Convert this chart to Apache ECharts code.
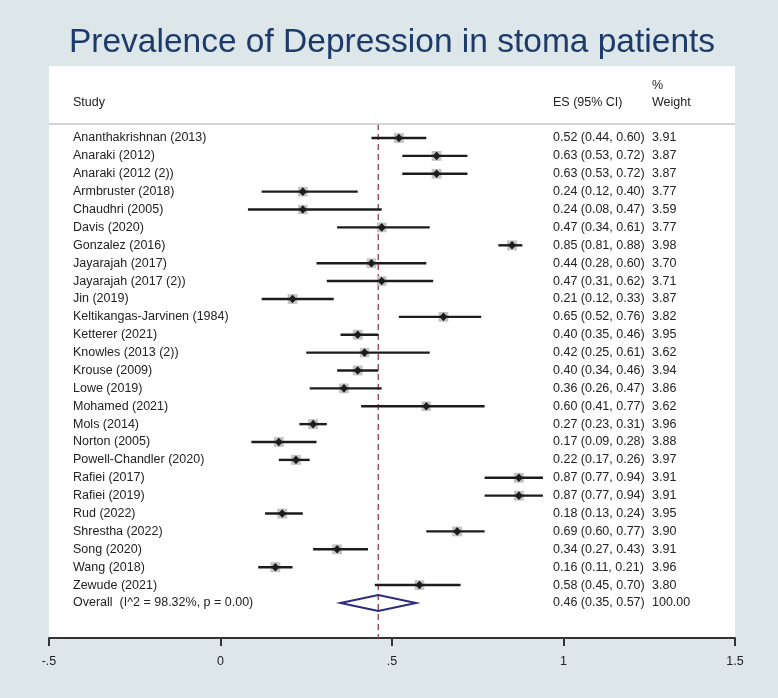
<!DOCTYPE html>
<html>
<head>
<meta charset="utf-8">
<script src="https://cdn.jsdelivr.net/npm/echarts@6/dist/echarts.min.js"></script>
<style>
html,body{margin:0;padding:0;background:#dde6e9;}
#chart{width:778px;height:698px;}
</style>
</head>
<body>
<div id="chart"></div>
<script>
const titleText = 'Prevalence of Depression in stoma patients';
const studies = [
  'Ananthakrishnan (2013)', 'Anaraki (2012)', 'Anaraki (2012 (2))', 'Armbruster (2018)',
  'Chaudhri (2005)', 'Davis (2020)', 'Gonzalez (2016)', 'Jayarajah (2017)',
  'Jayarajah (2017 (2))', 'Jin (2019)', 'Keltikangas-Jarvinen (1984)', 'Ketterer (2021)',
  'Knowles (2013 (2))', 'Krouse (2009)', 'Lowe (2019)', 'Mohamed (2021)',
  'Mols (2014)', 'Norton (2005)', 'Powell-Chandler (2020)', 'Rafiei (2017)',
  'Rafiei (2019)', 'Rud (2022)', 'Shrestha (2022)', 'Song (2020)',
  'Wang (2018)', 'Zewude (2021)'
];
const es = [0.52, 0.63, 0.63, 0.24, 0.24, 0.47, 0.85, 0.44, 0.47, 0.21, 0.65, 0.40, 0.42,
            0.40, 0.36, 0.60, 0.27, 0.17, 0.22, 0.87, 0.87, 0.18, 0.69, 0.34, 0.16, 0.58];
const ciLow = [0.44, 0.53, 0.53, 0.12, 0.08, 0.34, 0.81, 0.28, 0.31, 0.12, 0.52, 0.35, 0.25,
               0.34, 0.26, 0.41, 0.23, 0.09, 0.17, 0.77, 0.77, 0.13, 0.60, 0.27, 0.11, 0.45];
const ciHigh = [0.60, 0.72, 0.72, 0.40, 0.47, 0.61, 0.88, 0.60, 0.62, 0.33, 0.76, 0.46, 0.61,
                0.46, 0.47, 0.77, 0.31, 0.28, 0.26, 0.94, 0.94, 0.24, 0.77, 0.43, 0.21, 0.70];
const weights = [3.91, 3.87, 3.87, 3.77, 3.59, 3.77, 3.98, 3.70, 3.71, 3.87, 3.82, 3.95, 3.62,
                 3.94, 3.86, 3.62, 3.96, 3.88, 3.97, 3.91, 3.91, 3.95, 3.90, 3.91, 3.96, 3.80];
const overallLabel = 'Overall  (I^2 = 98.32%, p = 0.00)';
const overallES = 0.46;
const overallLow = 0.35;
const overallHigh = 0.57;
const overallWeight = 100.00;
const xTickValues = [-0.5, 0, 0.5, 1, 1.5];
const xTickLabels = ['-.5', '0', '.5', '1', '1.5'];
const headerStudy = 'Study';
const headerES = 'ES (95% CI)';
const headerWeight1 = '%';
const headerWeight2 = 'Weight';

const FONT = '"Liberation Sans", Arial, Helvetica, sans-serif';
const TXT = '#222222';
const FS = 12.5;
const STUDY_X = 73, ES_X = 553, W_X = 652;

const rows = studies.map((s, i) => [i, es[i], ciLow[i], ciHigh[i], weights[i]]);
rows.push([studies.length, overallES, overallLow, overallHigh, overallWeight]);
const labels = studies.concat([overallLabel]);

function fmt(v) { return v.toFixed(2); }

function renderRow(params, api) {
  const idx = params.dataIndex;
  const isOverall = idx === studies.length;
  const r = api.value(0);
  const e = api.value(1), l = api.value(2), h = api.value(3), w = api.value(4);
  const p = api.coord([e, r]);
  const pl = api.coord([l, r]);
  const ph = api.coord([h, r]);
  const y = p[1];
  const ch = [];
  if (!isOverall) {
    const side = 5 * Math.sqrt(w);
    ch.push({type: 'rect', shape: {x: p[0] - side / 2, y: y - side / 2, width: side, height: side},
             style: {fill: '#c4c4c4'}});
    ch.push({type: 'line', shape: {x1: pl[0], y1: y, x2: ph[0], y2: y},
             style: {stroke: '#1c1c1c', lineWidth: 2.4}});
    ch.push({type: 'polygon', shape: {points: [[p[0] - 4, y], [p[0], y - 4.3], [p[0] + 4, y], [p[0], y + 4.3]]},
             style: {fill: '#1c1c1c'}});
  } else {
    ch.push({type: 'polygon', shape: {points: [[pl[0], y], [p[0], y - 8], [ph[0], y], [p[0], y + 8]]},
             style: {fill: 'none', stroke: '#2c2a7c', lineWidth: 2}});
  }
  const tstyle = (text, x) => ({type: 'text', style: {text: text, x: x, y: y, fill: TXT,
    fontSize: FS, fontFamily: FONT, align: 'left', verticalAlign: 'middle'}});
  ch.push(tstyle(labels[idx], STUDY_X));
  ch.push(tstyle(fmt(e) + ' (' + fmt(l) + ', ' + fmt(h) + ')', ES_X));
  ch.push(tstyle(fmt(w), W_X));
  return {type: 'group', children: ch};
}

const chart = echarts.init(document.getElementById('chart'));
const Y_MIN = -4.027, Y_MAX = 27.96, SEP_ROW = -0.78;
chart.setOption({
  backgroundColor: '#dde6e9',
  animation: false,
  grid: {left: 49, right: 43, top: 66, bottom: 60, show: true, backgroundColor: '#ffffff', borderWidth: 0},
  xAxis: {
    type: 'value', min: -0.5, max: 1.5, interval: 0.5,
    splitLine: {show: false},
    axisLine: {show: true, onZero: false, lineStyle: {color: '#333333', width: 2}},
    axisTick: {show: true, inside: false, length: 8, lineStyle: {color: '#333333', width: 2}},
    axisLabel: {
      margin: 17, fontSize: FS, fontFamily: FONT, color: TXT,
      formatter: function (v) {
        const k = xTickValues.findIndex(t => Math.abs(t - v) < 1e-9);
        return k >= 0 ? xTickLabels[k] : '';
      }
    }
  },
  yAxis: {type: 'value', inverse: true, min: Y_MIN, max: Y_MAX, show: false, splitLine: {show: false}},
  graphic: [
    {type: 'text', z: 10, style: {text: titleText, x: 392, y: 42.5, fill: '#1c3a6a',
      fontSize: 33.5, fontFamily: FONT, align: 'center', verticalAlign: 'middle'}},
    {type: 'text', z: 10, style: {text: headerStudy, x: STUDY_X, y: 103, fill: TXT, fontSize: FS, fontFamily: FONT, verticalAlign: 'middle'}},
    {type: 'text', z: 10, style: {text: headerES, x: ES_X, y: 103, fill: TXT, fontSize: FS, fontFamily: FONT, verticalAlign: 'middle'}},
    {type: 'text', z: 10, style: {text: headerWeight1, x: W_X, y: 86, fill: TXT, fontSize: FS, fontFamily: FONT, verticalAlign: 'middle'}},
    {type: 'text', z: 10, style: {text: headerWeight2, x: W_X, y: 103, fill: TXT, fontSize: FS, fontFamily: FONT, verticalAlign: 'middle'}},
    {type: 'line', z: 10, shape: {x1: 49, y1: 124, x2: 735, y2: 124}, style: {stroke: '#c4c4c4', lineWidth: 1.5}}
  ],
  series: [
    {
      type: 'line', silent: true, symbol: 'none', z: 1,
      data: [[overallES, SEP_ROW], [overallES, Y_MAX]],
      lineStyle: {color: '#a3525e', width: 1.5, type: [6, 4]}
    },
    {
      type: 'custom', z: 3, clip: false,
      renderItem: renderRow,
      data: rows
    }
  ]
});
</script>
</body>
</html>
